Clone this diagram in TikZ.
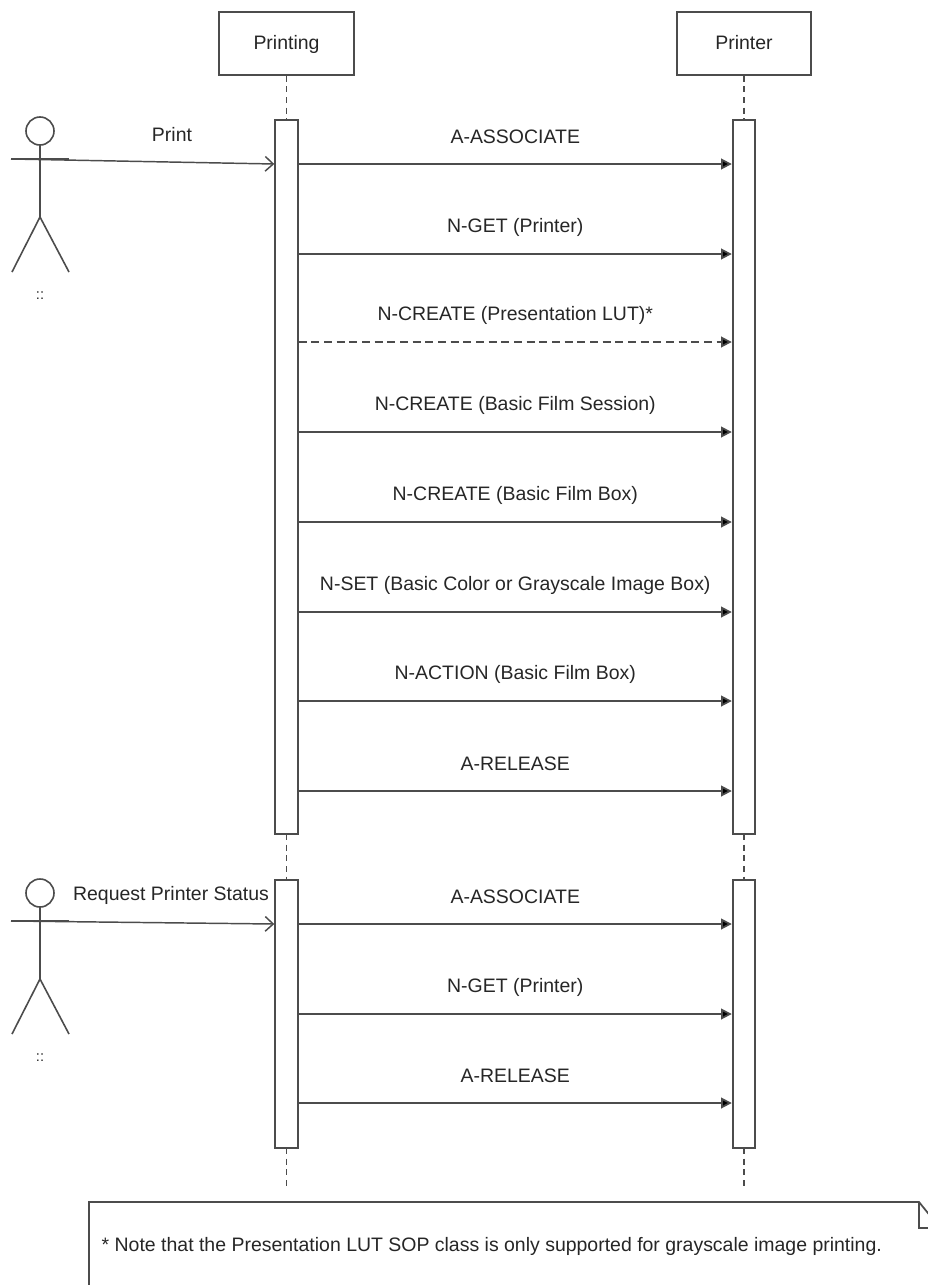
\documentclass[tikz,border=0pt]{standalone}
\usepackage{fontspec}
\setmainfont{Liberation Sans}
\usetikzlibrary{arrows.meta}
\tikzset{>=latex}
\colorlet{umlgray}{black!70}
\tikzset{
  head/.style={rectangle,draw=umlgray,line width=1.3pt,minimum width=101pt,minimum height=47pt,
    inner sep=0pt,text height=1.8ex,text depth=0.15ex},
  bar/.style={rectangle,draw=umlgray,fill=white,line width=1.3pt,minimum width=17pt,inner sep=0pt},
  life/.style={draw=umlgray,line width=1.2pt,dash pattern=on 4.5pt off 3.5pt},
  msg/.style={draw=umlgray,line width=1.3pt,-{Triangle[length=8pt,width=8pt,fill=black]}},
  call/.style={draw=umlgray,line width=1.1pt,-{Straight Barb[length=6pt,width=11pt]}},
  lbl/.style={midway,yshift=20.25pt},
  stickman/.pic={
    \draw[umlgray,line width=1.2pt] (0,0) circle[radius=14];
    \draw[umlgray,line width=1.2pt] (0,14) -- (0,86);
    \draw[umlgray,line width=1.2pt] (-29,28) -- (29,28);
    \draw[umlgray,line width=1.2pt] (-28,141) -- (0,86) -- (29,141);
    \coordinate (-hand) at (-29,28);
    \node[font=\fontsize{11}{11}\selectfont] (-dots) at (0,165) {::};
  }
}

\begin{document}
\begin{tikzpicture}[x=0.75pt,y=-0.75pt,
    every node/.style={font=\fontsize{14.6}{17}\selectfont,text=black!85}]
\useasboundingbox (0,0) rectangle (928,1285);

% lifeline heads
\node[head] (printing) at (286.5,43.5) {Printing};
\node[head] (printer) at (744,43.5) {Printer};

% activation bars
\coordinate (endA) at (286.5,1188);
\coordinate (endB) at (744,1188);
\draw[life] (printing.south) -- (286.5,120);
\draw[life] (printer.south) -- (744,120);
\draw[life] (286.5,834) -- (286.5,880);
\draw[life] (744,834) -- (744,880);
\draw[life] (286.5,1148) -- (endA);
\draw[life] (744,1148) -- (endB);
\node[bar,minimum height=535.5pt] (bar1) at (286.5,477) {};
\node[bar,minimum height=535.5pt] (bar2) at (744,477) {};
\node[bar,minimum height=201pt] (bar3) at (286.5,1014) {};
\node[bar,minimum height=201pt] (bar4) at (744,1014) {};

% actors
\pic (actA) at (40,131) {stickman};
\pic (actB) at (40,893) {stickman};

\draw[call] (actA-hand) -- (bar1.west |- 0,164);
\node (print) at (172,135) {Print};
\draw[call] (actB-hand) -- (bar3.west |- 0,924);
\node (status) at (171,895) {Request Printer Status};

% messages
\foreach \y/\txt in {164/A-ASSOCIATE, 254/N-GET (Printer),
    432/N-CREATE (Basic Film Session), 522/N-CREATE (Basic Film Box),
    612/N-SET (Basic Color or Grayscale Image Box),
    701/N-ACTION (Basic Film Box), 791/A-RELEASE}
  \draw[msg] (bar1.east |- 0,\y) -- (bar2.west |- 0,\y) node[lbl] {\txt};
\draw[msg,dash pattern=on 6pt off 3.5pt] (bar1.east |- 0,342) -- (bar2.west |- 0,342)
  node[lbl] {N-CREATE (Presentation LUT)*};

\foreach \y/\txt in {924/A-ASSOCIATE, 1014/N-GET (Printer), 1103/A-RELEASE}
  \draw[msg] (bar3.east |- 0,\y) -- (bar4.west |- 0,\y) node[lbl] {\txt};

% note
\draw[umlgray,line width=1.3pt] (89,1300) -- (89,1202) -- (919,1202) -- (940,1228) -- (940,1300);
\draw[umlgray,line width=1.3pt] (919,1202) -- (919,1228) -- (940,1228);
\node[anchor=west] (notetxt) at (97,1246) {* Note that the Presentation LUT SOP class is only supported for grayscale image printing.};
\end{tikzpicture}
\end{document}
